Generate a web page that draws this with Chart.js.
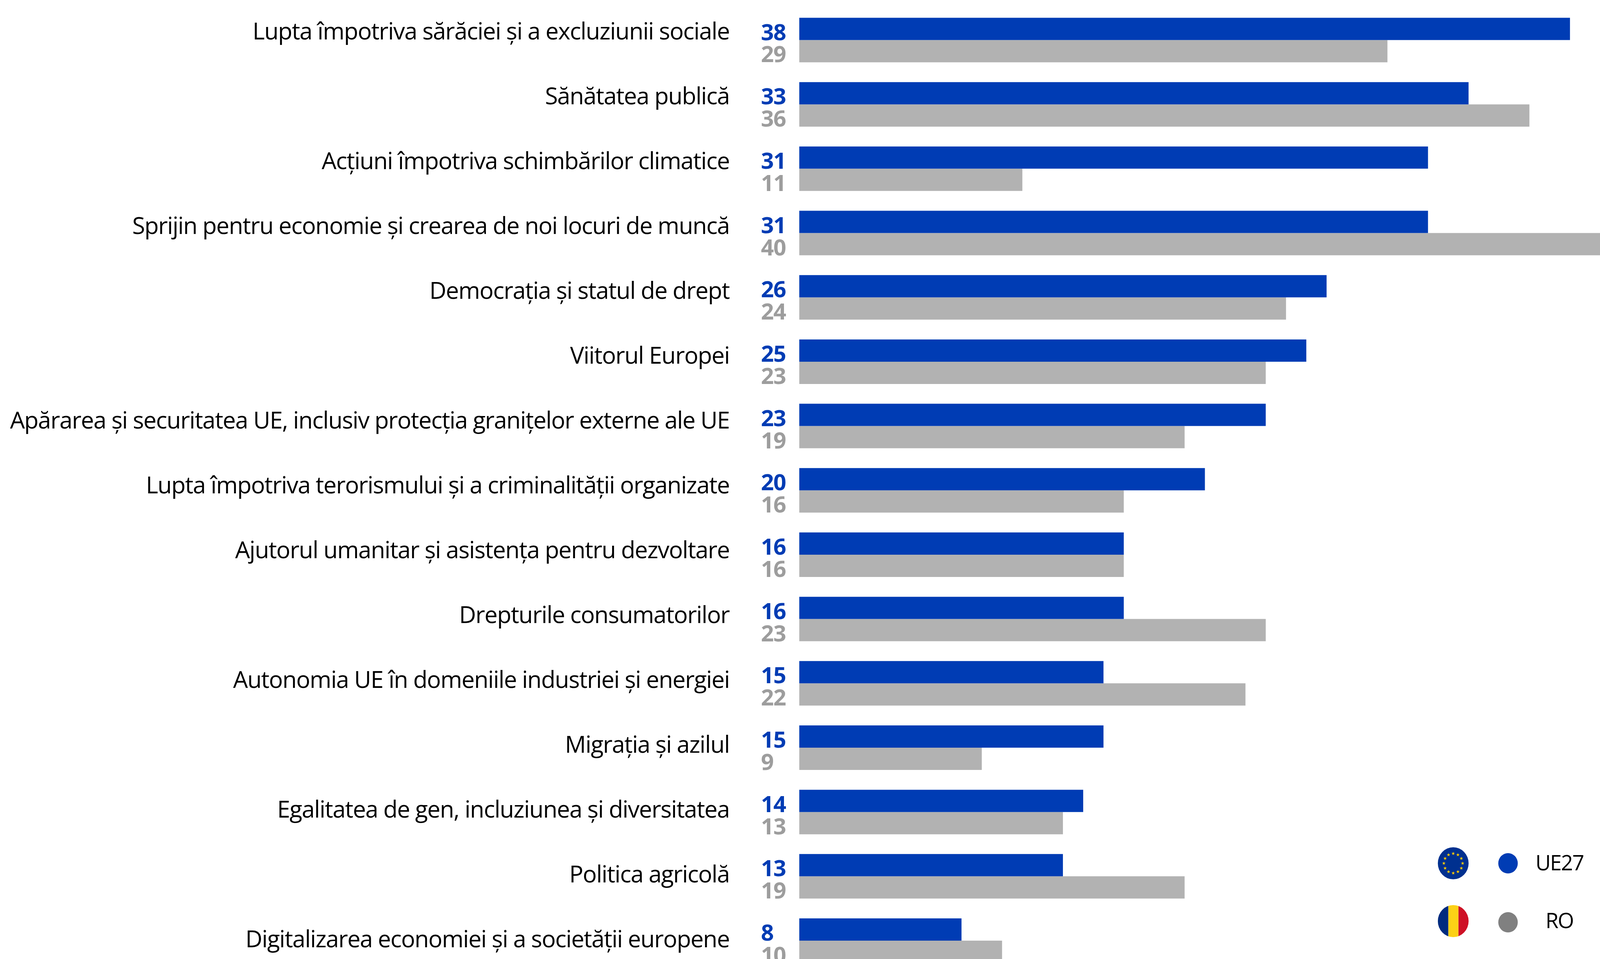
<!DOCTYPE html>
<html lang="ro">
<head>
<meta charset="utf-8">
<title>UE27 / RO</title>
<script src="https://cdn.jsdelivr.net/npm/chart.js@4"></script>
<style>
  html, body { margin: 0; padding: 0; background: #fff; width: 100%; height: 100%; overflow: hidden; }
  canvas { display: block; }
</style>
</head>
<body>
<canvas id="chart"></canvas>
<script>
const categories = [
  'Lupta împotriva sărăciei și a excluziunii sociale',
  'Sănătatea publică',
  'Acțiuni împotriva schimbărilor climatice',
  'Sprijin pentru economie și crearea de noi locuri de muncă',
  'Democrația și statul de drept',
  'Viitorul Europei',
  'Apărarea și securitatea UE, inclusiv protecția granițelor externe ale UE',
  'Lupta împotriva terorismului și a criminalității organizate',
  'Ajutorul umanitar și asistența pentru dezvoltare',
  'Drepturile consumatorilor',
  'Autonomia UE în domeniile industriei și energiei',
  'Migrația și azilul',
  'Egalitatea de gen, incluziunea și diversitatea',
  'Politica agricolă',
  'Digitalizarea economiei și a societății europene'
];
const ue27 = [38, 33, 31, 31, 26, 25, 23, 20, 16, 16, 15, 15, 14, 13, 8];
const ro = [29, 36, 11, 40, 24, 23, 19, 16, 16, 23, 22, 9, 13, 19, 10];

const BLUE = '#003cb4';
const GREY = '#b2b2b2';
const LABEL_FONT = '"Open Sans", sans-serif';

// fereastra poate fi mai ingusta decat cei 4262px ceruti, asa ca x-ul se scaleaza
const sx = window.innerWidth / 4262;

const canvas = document.getElementById('chart');
canvas.width = Math.ceil(4290 * sx);   // bara de 40 iese putin din pagina, ca in original
canvas.height = 2491;

// textele axei sunt ceva mai stranse, fontul original e mai ingust
const tightText = {
  id: 'tightText',
  beforeDraw(chart) { chart.ctx.letterSpacing = '-1.5px'; },
  beforeDatasetsDraw(chart) { chart.ctx.letterSpacing = '0px'; }
};

// valorile scrise in stanga barelor, pe linia de jos a fiecarei bare
const valueLabels = {
  id: 'valueLabels',
  afterDatasetsDraw(chart) {
    const ctx = chart.ctx;
    const colors = ['#003cb4', '#9d9d9d'];
    ctx.save();
    ctx.font = 'bold 58px ' + LABEL_FONT;
    ctx.letterSpacing = '-1.5px';
    ctx.textAlign = 'left';
    ctx.textBaseline = 'alphabetic';
    chart.data.datasets.forEach((ds, d) => {
      ctx.fillStyle = colors[d];
      chart.getDatasetMeta(d).data.forEach((bar, i) => {
        ctx.fillText(String(ds.data[i]), 2027 * sx, bar.y + bar.height / 2);
      });
    });
    ctx.restore();
  }
};

function dot(ctx, x, y, r, color) {
  ctx.fillStyle = color;
  ctx.beginPath();
  ctx.ellipse(x * sx, y, r * sx, r, 0, 0, Math.PI * 2);
  ctx.fill();
}

function drawEuFlag(ctx, x, y, r) {
  dot(ctx, x, y, r, '#00308f');
  ctx.fillStyle = '#ffcc00';
  for (let i = 0; i < 12; i++) {
    const a = i * Math.PI / 6;
    const cx = (x + Math.cos(a) * 25) * sx;
    const cy = y + Math.sin(a) * 25;
    ctx.beginPath();
    for (let k = 0; k < 10; k++) {
      const rad = k % 2 ? 1.9 : 4.6;
      const b = -Math.PI / 2 + k * Math.PI / 5;
      ctx.lineTo(cx + Math.cos(b) * rad, cy + Math.sin(b) * rad);
    }
    ctx.closePath();
    ctx.fill();
  }
}

function drawRoFlag(ctx, x, y, r) {
  ctx.save();
  ctx.beginPath();
  ctx.ellipse(x * sx, y, r * sx, r, 0, 0, Math.PI * 2);
  ctx.clip();
  ctx.fillStyle = '#002b7f';
  ctx.fillRect((x - r) * sx, y - r, (r - 13) * sx, r * 2);
  ctx.fillStyle = '#fcd116';
  ctx.fillRect((x - 13) * sx, y - r, 27 * sx, r * 2);
  ctx.fillStyle = '#ce1126';
  ctx.fillRect((x + 14) * sx, y - r, r * sx, r * 2);
  ctx.restore();
}

// legenda din coltul dreapta-jos, cu steaguri
const flagLegend = {
  id: 'flagLegend',
  afterDraw(chart) {
    const ctx = chart.ctx;
    const names = chart.data.datasets.map(ds => ds.label);
    ctx.save();
    drawEuFlag(ctx, 3871, 2210, 41);
    drawRoFlag(ctx, 3871, 2358, 41);
    dot(ctx, 4017, 2210, 26, BLUE);
    dot(ctx, 4017, 2361, 26, '#808080');
    ctx.fillStyle = '#000';
    ctx.font = '54px ' + LABEL_FONT;
    ctx.letterSpacing = '-2px';
    ctx.textAlign = 'center';
    ctx.textBaseline = 'alphabetic';
    ctx.fillText(names[0], 4154 * sx, 2228);
    ctx.fillText(names[1], 4154 * sx, 2376);
    ctx.restore();
  }
};

new Chart(canvas.getContext('2d'), {
  type: 'bar',
  data: {
    labels: categories,
    datasets: [
      { label: 'UE27', data: ue27, backgroundColor: BLUE, borderWidth: 0 },
      { label: 'RO', data: ro, backgroundColor: GREY, borderWidth: 0 }
    ]
  },
  options: {
    indexAxis: 'y',
    responsive: false,
    devicePixelRatio: 1,
    animation: false,
    layout: { padding: { top: 20.16, bottom: 0.64, left: 0, right: 0 } },
    categoryPercentage: 0.692,
    barPercentage: 1,
    plugins: {
      legend: { display: false },
      tooltip: { enabled: false }
    },
    scales: {
      x: { display: false, min: 0, max: 40 },
      y: { display: false },
      // axa textelor: randurile au alt pas decat barele, de aceea e separata
      yLabels: {
        type: 'linear',
        position: 'left',
        reverse: true,
        offset: false,
        bounds: 'data',
        min: -0.385,
        max: 14.496,
        afterBuildTicks(scale) {
          scale.ticks = categories.map((c, i) => ({ value: i }));
        },
        afterFit(scale) {
          scale.width = 2129 * sx;
          scale.paddingTop = 0;
          scale.paddingBottom = 0;
        },
        grid: { display: false, drawTicks: false },
        border: { display: false },
        ticks: {
          autoSkip: false,
          padding: 186 * sx,
          color: '#000',
          font: { family: LABEL_FONT, size: 60 },
          callback: v => categories[v]
        }
      }
    }
  },
  plugins: [tightText, valueLabels, flagLegend]
});
</script>
</body>
</html>
